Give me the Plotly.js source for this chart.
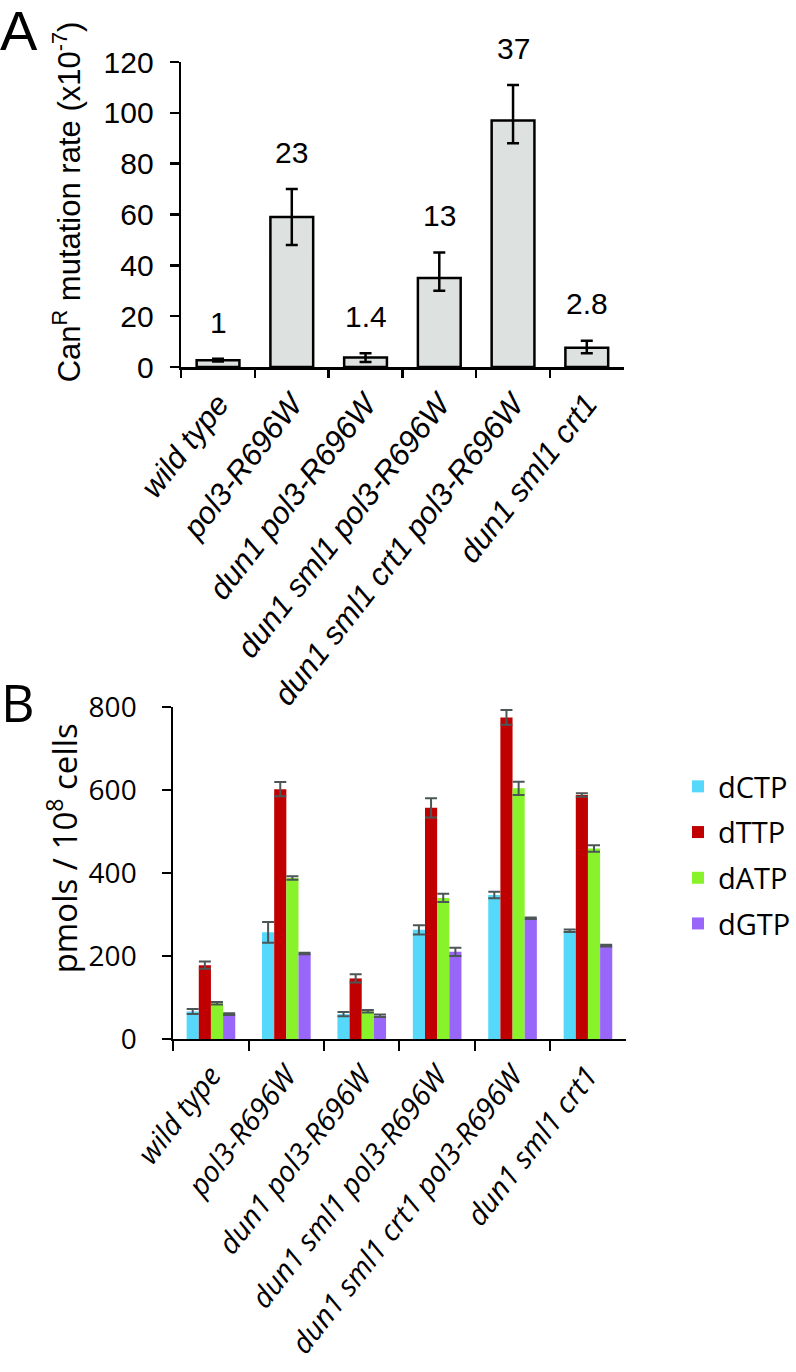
<!DOCTYPE html>
<html>
<head>
<meta charset="utf-8">
<script src="https://cdn.plot.ly/plotly-3.0.1.min.js"></script>
<style>html,body{margin:0;padding:0;background:#fff}</style>
</head>
<body>
<div id="chart" style="width:796px;height:1372px"></div>
<script>
// strains (same order in both panels)
let strains = ["wild type", "pol3-R696W", "dun1 pol3-R696W", "dun1 sml1 pol3-R696W", "dun1 sml1 crt1 pol3-R696W", "dun1 sml1 crt1"];

// panel A: CanR mutation rate (x10^-7)
let mutRate = [2.7, 59, 3.7, 35, 97, 7.6];
let mutErrPlus = [0.5, 11, 1.7, 10, 14, 2.7];
let mutErrMinus = [0.5, 11, 1.7, 5, 9, 2.2];
let foldChange = ["1", "23", "1.4", "13", "37", "2.8"];

// panel B: dNTP pools, pmols / 10^8 cells
let dNTPs = ["dCTP", "dTTP", "dATP", "dGTP"];
let dCTP = [66, 257, 60, 263, 347, 261];
let dCTPerr = [6, 25, 5, 11, 8, 3];
let dTTP = [178, 602, 146, 557, 775, 588];
let dTTPerr = [9, 17, 10, 23, 18, 4];
let dATP = [86, 388, 67, 340, 604, 459];
let dATPerr = [3, 4, 3, 10, 16, 8];
let dGTP = [60, 206, 56, 210, 291, 225];
let dGTPerr = [2, 2, 3, 10, 2, 2];

let colors = ["#55d8fa", "#c00000", "#88f22a", "#9966fa"];
let fontA = "Liberation Sans, Arial, sans-serif";
let fontB = "Open Sans, Noto Sans, sans-serif";
let italic = strains.map(s => "<i>" + s + "</i>");
let yMaxA = 120;

let traces = [{
    x: strains,
    y: mutRate,
    type: "bar",
    width: 0.58,
    marker: { color: "#dde2e1", line: { color: "#000", width: 2.5 } },
    error_y: { type: "data", array: mutErrPlus, arrayminus: mutErrMinus, color: "#000", thickness: 2.5, width: 6 },
    showlegend: false,
    xaxis: "x", yaxis: "y"
}];

let seriesB = [dCTP, dTTP, dATP, dGTP];
let errB = [dCTPerr, dTTPerr, dATPerr, dGTPerr];
dNTPs.forEach(function (name, i) {
    traces.push({
        x: strains,
        y: seriesB[i],
        name: name,
        legendgroup: name,
        type: "bar",
        marker: { color: colors[i] },
        error_y: { type: "data", array: errB[i], color: "#4d5656", thickness: 2, width: 6 },
        xaxis: "x2", yaxis: "y2"
    });
});

// fold labels sit above the error bars; "37" is above the axis top, so use the y domain ref
let annotations = strains.map(function (s, i) {
    return {
        x: s, y: (mutRate[i] + mutErrPlus[i] + 14.5) / yMaxA, xref: "x", yref: "y domain",
        text: foldChange[i], showarrow: false, yanchor: "middle",
        font: { family: fontA, size: 30, color: "#000" }
    };
});
annotations.push(
    { x: 19 / 796, y: 1 - 31 / 1372, xref: "paper", yref: "paper", text: "A", showarrow: false,
      xanchor: "center", yanchor: "middle", font: { family: fontA, size: 56, color: "#000" } },
    { x: 18 / 796, y: 1 - 701 / 1372, xref: "paper", yref: "paper", text: "B", showarrow: false,
      xanchor: "center", yanchor: "middle", font: { family: fontB, size: 52, color: "#000" } },
    { x: 68 / 796, y: 1 - 202 / 1372, xref: "paper", yref: "paper", textangle: -90,
      text: "Can<sup>R</sup> mutation rate (x10<sup>-7</sup>)", showarrow: false,
      xanchor: "center", yanchor: "middle", font: { family: fontA, size: 31, color: "#000" } },
    { x: 63 / 796, y: 1 - 848 / 1372, xref: "paper", yref: "paper", textangle: -90,
      text: "pmols / 10<sup>8</sup> cells", showarrow: false,
      xanchor: "center", yanchor: "middle", font: { family: fontB, size: 33, color: "#000" } }
);

let layout = {
    width: 796, height: 1372,
    margin: { l: 0, r: 0, t: 0, b: 0 },
    paper_bgcolor: "#fff", plot_bgcolor: "#fff",
    barmode: "group", bargap: 0.355, bargroupgap: 0,
    xaxis: {
        domain: [183 / 796, 630 / 796], anchor: "y", type: "category",
        tickvals: strains, ticktext: italic, tickson: "boundaries",
        ticks: "outside", ticklen: 8, tickwidth: 2.5, tickcolor: "#000",
        showline: true, linecolor: "#000", linewidth: 2.5, showgrid: false,
        tickangle: -52, ticklabelstandoff: 4,
        tickfont: { family: fontA, size: 31, color: "#000" }
    },
    yaxis: {
        domain: [1 - 367 / 1372, 1 - 62 / 1372], anchor: "x", range: [0, yMaxA], dtick: 20,
        ticks: "outside", ticklen: 9, tickwidth: 2.5, tickcolor: "#000",
        showline: true, linecolor: "#000", linewidth: 2.5, showgrid: false, zeroline: false,
        ticklabelstandoff: 10,
        tickfont: { family: fontA, size: 30, color: "#000" }
    },
    xaxis2: {
        domain: [175 / 796, 632 / 796], anchor: "y2", type: "category",
        tickvals: strains, ticktext: italic, tickson: "boundaries",
        ticks: "outside", ticklen: 10, tickwidth: 2, tickcolor: "#000",
        showline: true, linecolor: "#000", linewidth: 2, showgrid: false,
        tickangle: -52, ticklabelstandoff: 6,
        tickfont: { family: fontB, size: 29, color: "#000" }
    },
    yaxis2: {
        domain: [1 - 1039 / 1372, 1 - 707 / 1372], anchor: "x2", range: [0, 800], dtick: 200,
        ticks: "outside", ticklen: 9, tickwidth: 2, tickcolor: "#000",
        showline: true, linecolor: "#000", linewidth: 2, showgrid: false, zeroline: false,
        ticklabelstandoff: 20,
        tickfont: { family: fontB, size: 28, color: "#000" }
    },
    legend: {
        x: 685 / 796, y: 1 - 761 / 1372, xanchor: "left", yanchor: "top",
        font: { family: fontB, size: 29, color: "#000" },
        tracegroupgap: 5, bgcolor: "rgba(0,0,0,0)"
    },
    annotations: annotations
};

Plotly.newPlot("chart", traces, layout, { staticPlot: true });
</script>
</body>
</html>
